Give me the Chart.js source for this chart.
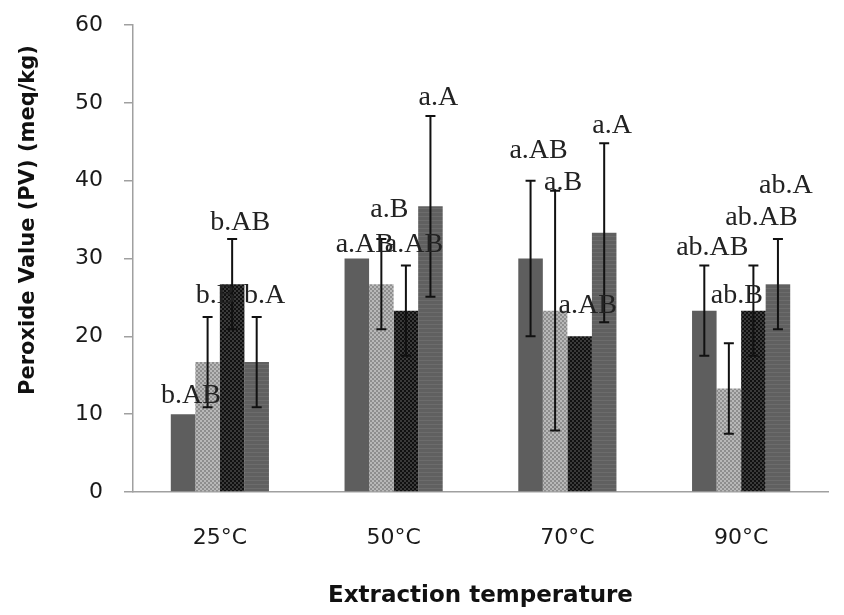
<!DOCTYPE html>
<html>
<head>
<meta charset="utf-8">
<script src="https://cdn.jsdelivr.net/npm/chart.js@4.4.1/dist/chart.umd.min.js"></script>
<style>
  html, body { margin: 0; padding: 0; background: #ffffff; }
  #wrap { width: 844px; height: 615px; position: relative; }
</style>
</head>
<body>
<div id="wrap"><canvas id="c" width="844" height="615"></canvas></div>
<script>
// ---- Data ----
const categories = ['25°C', '50°C', '70°C', '90°C'];
const yTicks = [0, 10, 20, 30, 40, 50, 60];

const series1 = [10, 30, 30, 23.3];
const series2 = [16.7, 26.7, 23.3, 13.3];
const series3 = [26.7, 23.3, 20, 23.3];
const series4 = [16.7, 36.7, 33.3, 26.7];

const series1Err = [0, 0, 10, 5.8];
const series2Err = [5.8, 5.8, 15.4, 5.8];
const series3Err = [5.8, 5.8, 0, 5.8];
const series4Err = [5.8, 11.6, 11.5, 5.8];

const series1Labels = ['b.AB', 'a.AB', 'a.AB', 'ab.AB'];
const series2Labels = ['b.B', 'a.B', 'a.B', 'ab.B'];
const series3Labels = ['b.AB', 'a.AB', 'a.AB', 'ab.AB'];
const series4Labels = ['b.A', 'a.A', 'a.A', 'ab.A'];

// value (y units) at which each letter annotation sits
const series1LabelAt = [11.4, 30.8, 42.9, 30.5];
const series2LabelAt = [24.3, 35.3, 38.8, 24.3];
const series3LabelAt = [33.7, 30.8, 23.0, 34.3];
const series4LabelAt = [24.3, 49.7, 46.1, 38.4];

const xTitle = 'Extraction temperature';
const yTitle = 'Peroxide Value (PV) (meq/kg)';

// ---- Patterns ----
function makePattern(c1, c2, size) {
  const pc = document.createElement('canvas');
  pc.width = size * 2; pc.height = size * 2;
  const p = pc.getContext('2d');
  p.fillStyle = c1; p.fillRect(0, 0, size * 2, size * 2);
  p.fillStyle = c2;
  p.fillRect(0, 0, size, size);
  p.fillRect(size, size, size, size);
  return p.createPattern(pc, 'repeat');
}
function makeStripe(c1, c2) {
  const pc = document.createElement('canvas');
  pc.width = 4; pc.height = 4;
  const p = pc.getContext('2d');
  p.fillStyle = c1; p.fillRect(0, 0, 4, 4);
  p.fillStyle = c2; p.fillRect(0, 0, 4, 1);
  return p.createPattern(pc, 'repeat');
}
const fill1 = '#5e5e5e';
const fill2 = makePattern('#8e8e8e', '#b8b8b8', 2);
const fill3 = makePattern('#101010', '#3a3a3a', 2);
const fill4 = makeStripe('#606060', '#6c6c6c');

const errs = [series1Err, series2Err, series3Err, series4Err];
const labels = [series1Labels, series2Labels, series3Labels, series4Labels];
const labelAt = [series1LabelAt, series2LabelAt, series3LabelAt, series4LabelAt];

const errorBarPlugin = {
  id: 'errorBars',
  afterDatasetsDraw(chart) {
    const ctx = chart.ctx;
    const ys = chart.scales.y;
    ctx.save();
    ctx.strokeStyle = '#111111';
    ctx.lineWidth = 2;
    chart.data.datasets.forEach((ds, di) => {
      const meta = chart.getDatasetMeta(di);
      meta.data.forEach((bar, i) => {
        const e = errs[di][i];
        if (!e) return;
        const v = ds.data[i];
        const yt = ys.getPixelForValue(v + e);
        const yb = ys.getPixelForValue(v - e);
        const x = bar.x;
        ctx.beginPath();
        ctx.moveTo(x, yt); ctx.lineTo(x, yb);
        ctx.moveTo(x - 5, yt); ctx.lineTo(x + 5, yt);
        ctx.moveTo(x - 5, yb); ctx.lineTo(x + 5, yb);
        ctx.stroke();
      });
    });
    ctx.restore();
  },
  afterDraw(chart) {
    const ctx = chart.ctx;
    const ys = chart.scales.y;
    ctx.save();
    ctx.fillStyle = '#222222';
    ctx.font = '28px "Liberation Serif", "Times New Roman", serif';
    ctx.textAlign = 'center';
    ctx.textBaseline = 'alphabetic';
    chart.data.datasets.forEach((ds, di) => {
      const meta = chart.getDatasetMeta(di);
      meta.data.forEach((bar, i) => {
        ctx.fillText(labels[di][i], bar.x + 8, ys.getPixelForValue(labelAt[di][i]));
      });
    });
    // y axis title
    ctx.translate(29, 220);
    ctx.rotate(-Math.PI / 2);
    ctx.fillStyle = '#111111';
    ctx.font = 'bold 21px "DejaVu Sans", sans-serif';
    ctx.textBaseline = 'middle';
    ctx.fillText(yTitle, 0, 0);
    ctx.restore();
  }
};

new Chart(document.getElementById('c'), {
  type: 'bar',
  data: {
    labels: categories,
    datasets: [
      { data: series1, backgroundColor: fill1 },
      { data: series2, backgroundColor: fill2 },
      { data: series3, backgroundColor: fill3 },
      { data: series4, backgroundColor: fill4 }
    ]
  },
  options: {
    responsive: false,
    animation: false,
    events: [],
    layout: { padding: { top: 25, right: 16, left: 0, bottom: 0 } },
    plugins: { legend: { display: false }, tooltip: { enabled: false } },
    datasets: { bar: { barPercentage: 1.0, categoryPercentage: 0.565 } },
    scales: {
      x: {
        grid: { display: false, drawTicks: false },
        border: { display: true, color: '#a0a0a0', width: 1.5 },
        ticks: { color: '#1a1a1a', font: { family: '"DejaVu Sans", sans-serif', size: 22 }, padding: 33 },
        title: { display: true, text: xTitle, color: '#111111', font: { family: '"DejaVu Sans", sans-serif', size: 23, weight: 'bold' }, padding: { top: 0, bottom: 5 } },
        afterFit(s) { s.height = 123; s.paddingLeft = 0; s.paddingRight = 0; }
      },
      y: {
        min: 0, max: 60,
        afterBuildTicks(s) { s.ticks = yTicks.map(v => ({ value: v })); },
        grid: { drawOnChartArea: false, drawTicks: true, tickLength: 9, color: '#a0a0a0', lineWidth: 1.5 },
        border: { display: true, color: '#a0a0a0', width: 1.5 },
        ticks: { color: '#1a1a1a', font: { family: '"DejaVu Sans", sans-serif', size: 22 }, padding: 21 },
        afterFit(s) { s.width = 133; s.paddingTop = 0; s.paddingBottom = 0; }
      }
    }
  },
  plugins: [errorBarPlugin]
});
</script>
</body>
</html>
